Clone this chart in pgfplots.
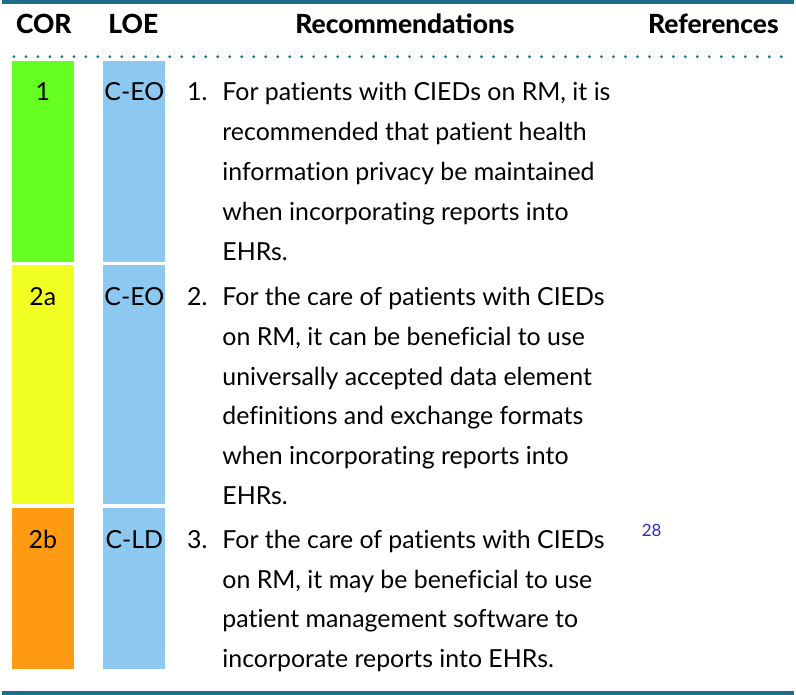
\documentclass[border=0pt]{standalone}
\usepackage{pgfplots}
\pgfplotsset{compat=1.18}
\usepackage{fontspec}
\setmainfont{Lato}[Ligatures=NoCommon]
\newfontfamily\headfont{Lato Heavy}
\definecolor{rule}{HTML}{1E6B8A}
\definecolor{dots}{HTML}{1B7A8C}
\definecolor{cgreen}{HTML}{66FF22}
\definecolor{cyellow}{HTML}{F2FF22}
\definecolor{corange}{HTML}{FF9A12}
\definecolor{cblue}{HTML}{8DC8F0}
\definecolor{refblue}{HTML}{2B2BCC}
\begin{document}
\begin{tikzpicture}
\begin{axis}[
  width=796pt, height=700pt, scale only axis,
  xmin=0, xmax=796, ymin=0, ymax=700, y dir=reverse,
  axis lines=none, clip=false,
  every node/.style={inner sep=0pt, outer sep=0pt},
]
% rules
\addplot[rule, line width=4pt] coordinates {(0,3) (796,3)};
\addplot[rule, line width=4pt] coordinates {(0,697) (796,697)};
\addplot[dots, line width=3.2pt, line cap=round, dash pattern=on 0pt off 12.05pt] coordinates {(12,58) (788,58)};
% COR bars
\addplot[fill=cgreen, draw=none] coordinates {(10,62) (72,62) (72,264) (10,264)} -- cycle;
\addplot[fill=cyellow, draw=none] coordinates {(10,267) (72,267) (72,508) (10,508)} -- cycle;
\addplot[fill=corange, draw=none] coordinates {(10,512) (72,512) (72,673) (10,673)} -- cycle;
% LOE bars
\addplot[fill=cblue, draw=none] coordinates {(102,62) (164,62) (164,264) (102,264)} -- cycle;
\addplot[fill=cblue, draw=none] coordinates {(102,267) (164,267) (164,508) (102,508)} -- cycle;
\addplot[fill=cblue, draw=none] coordinates {(102,512) (164,512) (164,673) (102,673)} -- cycle;
% header
\begin{scope}[every node/.append style={font=\fontsize{26.5}{30}\selectfont\headfont, anchor=base}]
\node at (axis cs:42,35) {COR};
\node at (axis cs:132,35) {LOE};
\node at (axis cs:405,35) {Recommendations};
\node at (axis cs:715,35) {References};
\end{scope}
\begin{scope}[every node/.append style={font=\fontsize{25}{40}\selectfont}]
\node[anchor=base] at (axis cs:41,102) {1};
\node[anchor=base] at (axis cs:41,308) {2a};
\node[anchor=base] at (axis cs:41,552) {2b};
\node[anchor=base] at (axis cs:133,102) {C-EO};
\node[anchor=base] at (axis cs:133,308) {C-EO};
\node[anchor=base] at (axis cs:133,552) {C-LD};
\node[anchor=base east] at (axis cs:210,102) {1.};
\node[anchor=base east] at (axis cs:210,308) {2.};
\node[anchor=base east] at (axis cs:210,552) {3.};
\node[anchor=base west] at (axis cs:218,102) {For patients with CIEDs on RM, it is};
\node[anchor=base west] at (axis cs:218,142.25) {recommended that patient health};
\node[anchor=base west] at (axis cs:218,182.5) {information privacy be maintained};
\node[anchor=base west] at (axis cs:218,222.75) {when incorporating reports into};
\node[anchor=base west] at (axis cs:218,263) {EHRs.};
\node[anchor=base west] at (axis cs:218,308) {For the care of patients with CIEDs};
\node[anchor=base west] at (axis cs:218,348) {on RM, it can be beneficial to use};
\node[anchor=base west] at (axis cs:218,388) {universally accepted data element};
\node[anchor=base west] at (axis cs:218,428) {definitions and exchange formats};
\node[anchor=base west] at (axis cs:218,468) {when incorporating reports into};
\node[anchor=base west] at (axis cs:218,508) {EHRs.};
\node[anchor=base west] at (axis cs:218,552) {For the care of patients with CIEDs};
\node[anchor=base west] at (axis cs:218,592) {on RM, it may be beneficial to use};
\node[anchor=base west] at (axis cs:218,632) {patient management software to};
\node[anchor=base west] at (axis cs:218,672) {incorporate reports into EHRs.};
\end{scope}
\node[anchor=base, font=\fontsize{17}{18}\selectfont, text=refblue] at (axis cs:653,540) {28};
\end{axis}
\end{tikzpicture}
\end{document}
